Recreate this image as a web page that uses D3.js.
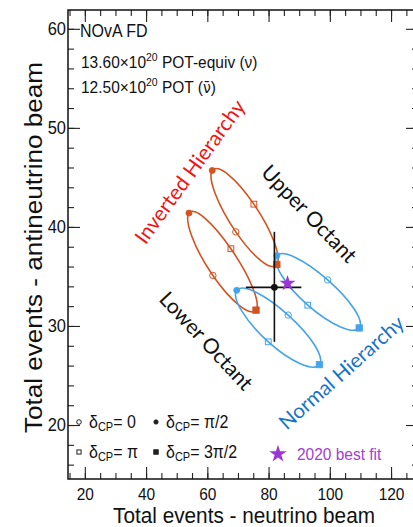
<!DOCTYPE html>
<html>
<head>
<meta charset="utf-8">
<script src="https://cdn.jsdelivr.net/npm/d3@7"></script>
<style>
  body { margin: 0; background: #fff; }
  svg { display: block; }
</style>
</head>
<body>
<div id="chart"></div>
<script>
// Contours of predicted events; points listed at dCP = 0, pi/2, pi, 3pi/2
const ihUpper = [[69.3, 39.5], [61.6, 45.7], [75.2, 42.3], [82.7, 36.2]];
const ihLower = [[61.8, 35.1], [54.0, 41.4], [67.7, 37.8], [75.9, 31.6]];
const nhUpper = [[99.3, 34.65], [82.7, 37.1], [92.8, 32.1], [109.6, 29.8]];
const nhLower = [[86.4, 31.1], [69.6, 33.6], [79.9, 28.4], [96.6, 26.1]];

// measured data point with error bars, and 2020 best fit
const dataPoint = [81.9, 33.9];
const dataXErr = [72.6, 90.7];
const dataYErr = [28.4, 39.5];
const bestFit2020 = [86.2, 34.3];

const xTicks = [20, 40, 60, 80, 100, 120];
const yTicks = [20, 30, 40, 50, 60];

const width = 413, height = 527;
const red = "#d4521f", blue = "#44a3ea";
const helv = "'Liberation Sans', Arial, Helvetica, sans-serif";
const cal = "Lato, 'Open Sans', sans-serif";
const sy = 1.12; // the picture is a little taller than wide

const x = d3.scaleLinear().domain([14.5, 128.8]).range([68, 418]);
const y = d3.scaleLinear().domain([14.55, 61.9]).range([479, 10]);

const svg = d3.select("#chart").append("svg")
  .attr("width", width)
  .attr("height", height);

// axes: major + minor ticks on all four sides, pointing inward
const xMinor = d3.range(15, 129, 5);
const yMinor = d3.range(16, 62, 2);

function axis(make, pos, major, minor, labels, size) {
  const g = svg.append("g").attr("transform", pos);
  g.append("g").call(make().tickValues(minor).tickSize(-6).tickFormat(""));
  const m = g.append("g").call(make().tickValues(major).tickSize(-12)
    .tickFormat(labels ? d3.format("d") : ""));
  g.selectAll(".domain").remove();
  g.selectAll("line").attr("stroke", "#222").attr("stroke-width", 1.1);
  m.selectAll("text")
    .attr("font-family", helv)
    .attr("font-size", size)
    .attr("fill", "#111")
    .attr("transform", `scale(1,${sy})`);
  return m;
}
axis(() => d3.axisBottom(x), "translate(0,479)", xTicks, xMinor, true, 15.5)
  .call(g => g.selectAll("text").attr("y", 7.5));
axis(() => d3.axisTop(x), "translate(0,10)", xTicks, xMinor, false, 15.5);
axis(() => d3.axisLeft(y), "translate(68,0)", yTicks, yMinor, true, 16.5)
  .call(g => g.selectAll("text").attr("x", -2));
axis(() => d3.axisRight(y), "translate(418,0)", yTicks, yMinor, false, 15.5);

// frame
svg.append("rect")
  .attr("x", 68).attr("y", 10)
  .attr("width", 350).attr("height", 469)
  .attr("fill", "none").attr("stroke", "#111").attr("stroke-width", 1.5);

// axis titles
svg.append("text")
  .attr("x", 244).attr("y", 523)
  .attr("text-anchor", "middle")
  .attr("font-family", helv).attr("font-size", 22)
  .attr("textLength", 262).attr("lengthAdjust", "spacingAndGlyphs")
  .attr("fill", "#111")
  .text("Total events - neutrino beam");

svg.append("text")
  .attr("transform", "translate(42,247.5) rotate(-90)")
  .attr("text-anchor", "middle")
  .attr("font-family", helv).attr("font-size", 23)
  .attr("textLength", 371).attr("lengthAdjust", "spacingAndGlyphs")
  .attr("fill", "#111")
  .text("Total events - antineutrino beam");

// contours
const contour = d3.line()
  .x(d => x(d[0])).y(d => y(d[1]))
  .curve(d3.curveCardinalClosed.tension(-0.657));

const sets = [
  { pts: ihUpper, color: red },
  { pts: ihLower, color: red },
  { pts: nhUpper, color: blue },
  { pts: nhLower, color: blue }
];

sets.forEach(s => {
  svg.append("path")
    .attr("d", contour(s.pts))
    .attr("fill", "none")
    .attr("stroke", s.color)
    .attr("stroke-width", 1.6);
});

function marker(g, kind, cx, cy, color, r) {
  if (kind === 0 || kind === 1) {
    g.append("circle")
      .attr("cx", cx).attr("cy", cy).attr("r", kind === 0 ? r : r * 0.95)
      .attr("fill", kind === 0 ? "none" : color)
      .attr("stroke", color).attr("stroke-width", kind === 0 ? 1 : 0.8);
  } else {
    const s = kind === 2 ? r * 1.8 : r * 2;
    g.append("rect")
      .attr("x", cx - s / 2).attr("y", cy - s / 2)
      .attr("width", s).attr("height", s)
      .attr("fill", kind === 2 ? "none" : color)
      .attr("stroke", color).attr("stroke-width", kind === 2 ? 1 : 0.8);
  }
}

sets.forEach(s => {
  const g = svg.append("g");
  s.pts.forEach((p, i) => marker(g, i, x(p[0]), y(p[1]), s.color, 3.2));
});

// data point
const eb = svg.append("g").attr("stroke", "#111").attr("stroke-width", 1.6);
eb.append("line")
  .attr("x1", x(dataXErr[0])).attr("x2", x(dataXErr[1]))
  .attr("y1", y(dataPoint[1])).attr("y2", y(dataPoint[1]));
eb.append("line")
  .attr("x1", x(dataPoint[0])).attr("x2", x(dataPoint[0]))
  .attr("y1", y(dataYErr[0])).attr("y2", y(dataYErr[1]));
svg.append("circle")
  .attr("cx", x(dataPoint[0])).attr("cy", y(dataPoint[1])).attr("r", 3.4)
  .attr("fill", "#111");

// best fit star
const purple = "#9b35d6";
svg.append("path")
  .attr("d", d3.symbol(d3.symbolStar, 80)())
  .attr("transform", `translate(${x(bestFit2020[0])},${y(bestFit2020[1])})`)
  .attr("fill", purple);

// annotations
function note(txt, cx, cy, rot, color, size) {
  svg.append("text")
    .attr("transform", `translate(${cx},${cy}) rotate(${rot})`)
    .attr("text-anchor", "middle")
    .attr("dominant-baseline", "central")
    .attr("font-family", cal).attr("font-size", size)
    .attr("fill", color)
    .text(txt);
}
note("Inverted Hierarchy", 189, 171, -54, "#f01414", 21);
note("Upper Octant", 310, 213, 46, "#111", 21);
note("Lower Octant", 207, 340, 47, "#111", 21);
note("Normal Hierarchy", 341, 372, -41.5, "#1673c6", 20.5);

// header text
function stretched(x0, y0, size) {
  return svg.append("text")
    .attr("transform", `translate(${x0},${y0}) scale(1,${sy})`)
    .attr("font-family", helv).attr("font-size", size || 15.5)
    .attr("fill", "#111");
}
stretched(80, 37, 16).text("NOvA FD");

const l2 = stretched(81, 68);
l2.append("tspan").text("13.60\u00d710");
l2.append("tspan").attr("dy", -6).attr("font-size", 10.5).text("20");
l2.append("tspan").attr("dy", 6).text(" POT-equiv (\u03bd)");

const l3 = stretched(81, 93);
l3.append("tspan").text("12.50\u00d710");
l3.append("tspan").attr("dy", -6).attr("font-size", 10.5).text("20");
l3.append("tspan").attr("dy", 6).text(" POT (");
l3.append("tspan").attr("font-family", "'DejaVu Sans', sans-serif").attr("font-size", 14).text("\u03bd\u0304");
l3.append("tspan").text(")");

// legend
const legend = [
  { kind: 0, label: "= 0", lx: 79, ly: 422 },
  { kind: 1, label: "= \u03c0/2", lx: 156, ly: 422 },
  { kind: 2, label: "= \u03c0", lx: 79, ly: 452 },
  { kind: 3, label: "= 3\u03c0/2", lx: 156, ly: 452 }
];
legend.forEach(d => {
  const g = svg.append("g");
  marker(g, d.kind, d.lx, d.ly, "#222", 2.3);
  const t = stretched(d.lx + 10, d.ly + 5.5, 16);
  t.append("tspan").text("\u03b4");
  t.append("tspan").attr("dy", 3.5).attr("font-size", 11).text("CP");
  t.append("tspan").attr("dy", -3.5).text(d.label);
});

svg.append("path")
  .attr("d", d3.symbol(d3.symbolStar, 95)())
  .attr("transform", "translate(278,454)")
  .attr("fill", purple);
stretched(297, 460).attr("fill", "#a040d4").text("2020 best fit");
</script>
</body>
</html>
